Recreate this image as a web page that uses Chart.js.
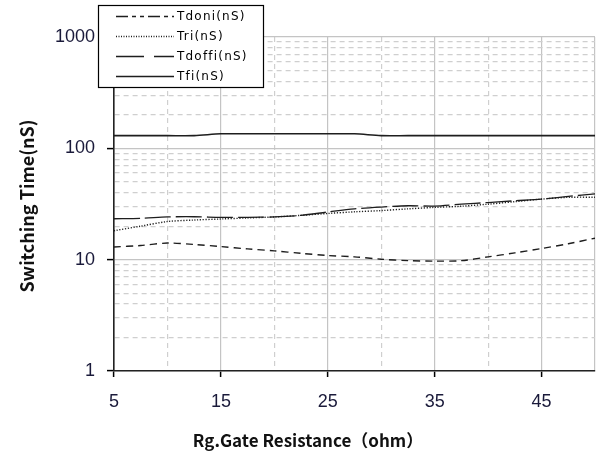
<!DOCTYPE html>
<html>
<head>
<meta charset="utf-8">
<script src="https://cdn.jsdelivr.net/npm/chart.js@4"></script>
<style>
  body { margin: 0; background: #fff; }
  canvas { display: block; }
</style>
</head>
<body>
<canvas id="myChart" width="599" height="454"></canvas>
<script>
// gate resistance (ohm)
var rg = [5, 7.5, 10, 12.5, 15, 17.5, 20, 22.5, 25, 27.5, 30, 32.5, 35, 37.5, 40, 42.5, 45, 47.5, 50];

// switching times (nS)
var tdoni  = [13, 13.4, 14.1, 13.7, 13.1, 12.5, 12, 11.4, 10.9, 10.6, 10.1, 9.8, 9.7, 9.8, 10.6, 11.5, 12.6, 13.9, 15.6];
var tri    = [18.2, 20, 22, 22.7, 23.2, 23.7, 24.2, 25, 26, 26.9, 27.6, 28.6, 29.5, 30.2, 31.5, 33.2, 35, 36.3, 36.4];
var tdoffi = [23.3, 23.5, 24.2, 24.3, 24, 24, 24.2, 25, 26.8, 28.6, 29.7, 30.5, 30.3, 31.5, 32.6, 33.8, 35, 37, 39];
var tfi    = [130, 130, 130, 130, 135, 135, 135, 135, 135, 135, 130, 130, 130, 130, 130, 130, 130, 130, 130];

var seriesNames = ["Tdoni(nS)", "Tri(nS)", "Tdoffi(nS)", "Tfi(nS)"];

var xTicks = [5, 10, 15, 20, 25, 30, 35, 40, 45, 50];
var xLabels = [5, 15, 25, 35, 45];
var yTicks = [1, 2, 3, 4, 5, 6, 7, 8, 9, 10, 20, 30, 40, 50, 60, 70, 80, 90, 100,
              200, 300, 400, 500, 600, 700, 800, 900, 1000];
var yLabels = [1, 10, 100, 1000];

function pts(ys) {
  return ys.map(function(v, i) { return {x: rg[i], y: v}; });
}

function isMajorY(v) { return yLabels.indexOf(v) >= 0; }
function isMajorX(v) { return v % 10 === 5 || v === 50; }

var lineColor = '#1e1e1e';

// legend box + axis titles drawn on top
var extras = {
  id: 'extras',
  afterDraw: function(chart) {
    var c = chart.ctx;
    c.save();
    // legend
    c.fillStyle = '#fff';
    c.fillRect(98, 5, 165, 82);
    c.strokeStyle = '#000';
    c.lineWidth = 1.2;
    c.strokeRect(98.5, 5.5, 165, 82);
    var rowY = [16, 36, 56, 76];
    chart.data.datasets.forEach(function(ds, i) {
      c.beginPath();
      c.setLineDash(ds.legendDash || []);
      c.strokeStyle = lineColor;
      c.lineWidth = 1.3;
      c.moveTo(116, rowY[i] + 0.5);
      c.lineTo(174, rowY[i] + 0.5);
      c.stroke();
      c.setLineDash([]);
      c.fillStyle = '#000';
      c.font = '12px "DejaVu Sans"';
      c.letterSpacing = '1.2px';
      c.textBaseline = 'middle';
      c.textAlign = 'left';
      c.fillText(ds.label, 177, rowY[i] + 1);
    });
    c.letterSpacing = '0px';
    // axis titles
    c.fillStyle = '#111';
    c.font = 'bold 17px "Noto Sans CJK SC"';
    c.textAlign = 'center';
    c.textBaseline = 'alphabetic';
    c.fillText('Rg.Gate Resistance（ohm）', 308, 447);
    c.font = 'bold 18px "Noto Sans CJK SC"';
    c.translate(34, 206);
    c.rotate(-Math.PI / 2);
    c.fillText('Switching Time(nS)', 0, 0);
    c.restore();
  }
};

var ctx = document.getElementById('myChart').getContext('2d');
var chart = new Chart(ctx, {
  type: 'line',
  data: {
    datasets: [{
      label: seriesNames[0],
      data: pts(tdoni),
      borderDash: [7, 5],
      legendDash: [12, 4, 4, 4, 4, 4],
      borderWidth: 1.4
    }, {
      label: seriesNames[1],
      data: pts(tri),
      borderDash: [1.2, 1.6],
      legendDash: [1, 1.5],
      borderWidth: 1.4
    }, {
      label: seriesNames[2],
      data: pts(tdoffi),
      borderDash: [26, 5],
      legendDash: [28, 10],
      borderWidth: 1.3
    }, {
      label: seriesNames[3],
      data: pts(tfi),
      borderDash: [],
      legendDash: [],
      borderWidth: 1.6
    }]
  },
  options: {
    responsive: false,
    animation: false,
    layout: { padding: { left: 0, right: 4, top: 37, bottom: 0 } },
    elements: {
      point: { radius: 0 },
      line: { tension: 0.3, borderColor: lineColor, fill: false }
    },
    plugins: {
      legend: { display: false },
      tooltip: { enabled: false }
    },
    scales: {
      x: {
        type: 'linear',
        min: 5,
        max: 50,
        afterBuildTicks: function(scale) {
          scale.ticks = xTicks.map(function(v) { return {value: v}; });
        },
        afterFit: function(scale) {
          scale.height = 83;
          scale.paddingLeft = 0;
          scale.paddingRight = 0;
        },
        ticks: {
          autoSkip: false,
          maxRotation: 0,
          padding: 14,
          color: '#1a1a3a',
          font: { family: 'Liberation Sans', size: 18 },
          callback: function(v) { return xLabels.indexOf(v) >= 0 ? String(v) : ''; }
        },
        grid: {
          color: function(c) { return isMajorX(c.tick ? c.tick.value : 0) ? '#c4c4c4' : '#cfcfcf'; },
          lineWidth: 1.2,
          tickLength: 6,
          tickColor: function(c) { return c.tick && xLabels.indexOf(c.tick.value) >= 0 ? '#000' : 'rgba(0,0,0,0)'; },
          tickWidth: 1.5
        },
        border: {
          color: '#222',
          width: 1.6,
          dash: function(c) { return c.tick && !isMajorX(c.tick.value) ? [5, 4] : []; }
        }
      },
      y: {
        type: 'logarithmic',
        min: 1,
        max: 1000,
        afterBuildTicks: function(scale) {
          scale.ticks = yTicks.map(function(v) { return {value: v}; });
        },
        afterFit: function(scale) {
          scale.width = 114;
          scale.paddingTop = 0;
          scale.paddingBottom = 0;
        },
        ticks: {
          autoSkip: false,
          padding: 12,
          color: '#1a1a3a',
          font: { family: 'Liberation Sans', size: 18 },
          callback: function(v) { return yLabels.indexOf(v) >= 0 ? String(v) : ''; }
        },
        grid: {
          color: function(c) { return c.tick && isMajorY(c.tick.value) ? '#c4c4c4' : '#cfcfcf'; },
          lineWidth: 1.2,
          tickLength: 7,
          tickColor: function(c) { return c.tick && isMajorY(c.tick.value) ? '#000' : 'rgba(0,0,0,0)'; },
          tickWidth: 1.5
        },
        border: {
          color: '#222',
          width: 1.6,
          dash: function(c) { return c.tick && !isMajorY(c.tick.value) ? [5, 4] : []; }
        }
      }
    }
  },
  plugins: [extras]
});
</script>
</body>
</html>
